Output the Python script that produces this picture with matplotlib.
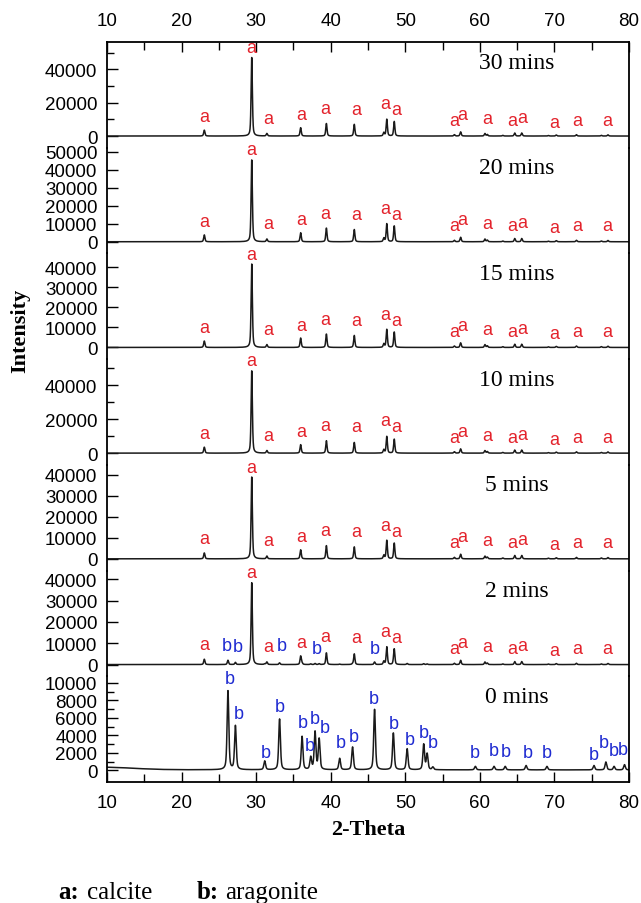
import numpy as np
import matplotlib
matplotlib.use("Agg")
import matplotlib.pyplot as plt
from matplotlib.ticker import MultipleLocator, FormatStrFormatter

# ---------------- data ----------------
panel_names = ["30 mins", "20 mins", "15 mins", "10 mins", "5 mins", "2 mins", "0 mins"]

# calcite reflections (2-theta, deg)
calcite_pos = [23.05, 29.41, 31.44, 35.97, 39.42, 43.16, 47.12, 47.52, 48.52,
               56.58, 57.42, 60.68, 61.00, 63.08, 64.68, 65.62, 69.20, 70.25,
               72.95, 76.30, 77.18]
# aragonite reflections (2-theta, deg)
aragonite_pos = [26.22, 27.22, 31.15, 33.14, 36.16, 37.32, 37.90, 38.45, 41.20,
                 42.93, 45.88, 48.40, 50.25, 52.47, 52.93, 53.70, 59.40, 61.90,
                 63.40, 66.20, 69.00, 75.30, 76.90, 78.00, 79.40]

calcite_30 = [3500, 47000, 1500, 5000, 7500, 7000, 2000, 10000, 8700, 800, 2500,
              1500, 900, 400, 1800, 1800, 300, 600, 800, 400, 700]
calcite_20 = [3800, 45500, 1500, 5000, 7600, 6800, 2000, 10000, 8800, 800, 2500,
              1500, 900, 400, 1800, 1800, 300, 600, 800, 400, 700]
calcite_15 = [3200, 41700, 1400, 4700, 6700, 6000, 1800, 9000, 7700, 700, 2300,
              1400, 800, 400, 1600, 1600, 300, 500, 700, 400, 600]
calcite_10 = [3500, 48400, 1500, 5000, 7300, 6300, 2000, 9800, 8200, 800, 2500,
              1500, 900, 400, 1800, 1800, 300, 600, 800, 400, 700]
calcite_5 = [2800, 39000, 1300, 4300, 6300, 5700, 1700, 8800, 7500, 700, 2200,
             1300, 800, 400, 1600, 1600, 300, 500, 700, 400, 600]
calcite_2 = [2500, 38400, 1200, 4000, 5500, 5000, 1500, 8300, 7200, 600, 2000,
             1200, 700, 300, 1400, 1400, 250, 450, 600, 300, 500]
calcite_0 = [0] * len(calcite_pos)

aragonite_none = [0] * len(aragonite_pos)
aragonite_2 = [2000, 1000, 300, 800, 600, 300, 500, 400, 200, 300, 1200, 500,
               500, 400, 300, 0, 0, 0, 0, 0, 0, 0, 0, 0, 0]
aragonite_0 = [9000, 5000, 1000, 5800, 3800, 1400, 4300, 3500, 1300, 2600, 6900,
               4200, 2400, 2900, 1800, 300, 400, 400, 400, 500, 400, 500, 900,
               400, 600]

calcite_sets = [calcite_30, calcite_20, calcite_15, calcite_10, calcite_5, calcite_2, calcite_0]
aragonite_sets = [aragonite_none, aragonite_none, aragonite_none, aragonite_none,
                  aragonite_none, aragonite_2, aragonite_0]

# background of the 0 mins sample at low angle (2-theta, counts)
bg0_theta = [10, 12, 14, 17, 20, 80]
bg0_counts = [350, 300, 200, 100, 60, 40]

# y ranges and tick steps of each layer
y_limits = [(-7000, 56300), (-6500, 52300), (-5850, 47000), (-6900, 55300),
            (-5600, 44800), (-5500, 44100), (-1340, 10740)]
y_major = [20000, 10000, 10000, 20000, 10000, 10000, 2000]
y_minor = [10000, 10000, 10000, 10000, 10000, 10000, 1000]

# phase markers: x of label, height above baseline (px); None = just above the peak
a_label_x = [23.1, 29.4, 31.6, 36.1, 39.3, 43.4, 47.3, 48.8, 56.5, 57.7, 61.0,
             64.4, 65.7, 70.0, 73.0, 77.1]
a_label_px = [20, None, 18, 22, 28, 27, 33, 27, 16, 22, 18, 16, 19, 14, 16, 16]

b2_label_x = [26.1, 27.6, 33.4, 38.1, 45.9]
b2_label_px = [19, 18, 19, 16, 16]

b0_label_x = [26.5, 27.7, 31.3, 33.2, 36.25, 37.2, 37.8, 39.2, 41.4, 43.1, 45.8,
              48.4, 50.6, 52.5, 53.75, 59.3, 61.9, 63.5, 66.4, 69.0, 75.3, 76.6,
              78.0, 79.2]
b0_label_px = [92, 57, 18, 64, 48, 25, 52, 43, 28, 34, 72, 47, 31, 38, 28, 18,
               20, 19, 18, 18, 16, 28, 20, 21]

# ---------------- profile ----------------
two_theta = np.arange(10.0, 80.0001, 0.01)


def pattern(pos, heights, fwhm):
    y = np.zeros_like(two_theta)
    g = fwhm / 2.0
    for p, h in zip(pos, heights):
        if h <= 0:
            continue
        d = two_theta - p
        lor = 1.0 / (1.0 + (d / g) ** 2)
        gau = np.exp(-np.log(2) * (d / g) ** 2)
        y += h * (0.5 * lor + 0.5 * gau)
    return y


# ---------------- figure ----------------
W, H = 641, 904
fig = plt.figure(figsize=(W / 100, H / 100), dpi=100)

left_px, right_px, top_px, bot_px = 107, 629, 43, 783
n = len(panel_names)
ph = (bot_px - top_px) / n

sans = "Liberation Sans"
serif = "Liberation Serif"
tick_fs = 13.5
mark_fs = 13
red = "#e3232c"
blue = "#1f2bd1"


def marker(ax, text, x, y, off_px, color):
    ax.annotate(text, xy=(x, y), xytext=(0, off_px * 0.72),
                textcoords="offset points", ha="center", va="center",
                color=color, fontsize=mark_fs, family=sans,
                annotation_clip=False)


for i in range(n):
    y_top = top_px + i * ph
    ax = fig.add_axes([left_px / W, 1 - (y_top + ph) / H,
                       (right_px - left_px) / W, ph / H])

    last = i == n - 1
    cal = pattern(calcite_pos, calcite_sets[i], 0.2)
    ara = pattern(aragonite_pos, aragonite_sets[i], 0.27 if last else 0.2)
    y = cal + ara
    if last:
        y = y + np.interp(two_theta, bg0_theta, bg0_counts)
    ax.plot(two_theta, y, color="#1a1a1a", lw=1.1)

    ax.set_xlim(10, 80)
    lo, hi = y_limits[i]
    ax.set_ylim(lo, hi)
    ax.set_yticks(np.arange(0, hi, y_major[i]))
    ax.set_yticks([t for t in np.arange(0, hi, y_minor[i]) if t % y_major[i] != 0],
                  minor=True)
    ax.yaxis.set_major_formatter(FormatStrFormatter("%d"))

    ax.tick_params(axis="y", which="both", direction="in", left=True, right=False,
                   labelsize=tick_fs, pad=7, width=1.0)
    ax.tick_params(axis="y", which="major", length=8)
    ax.tick_params(axis="y", which="minor", length=5)
    for lab in ax.get_yticklabels():
        lab.set_fontfamily(sans)

    for s in ("left", "right", "top", "bottom"):
        ax.spines[s].set_linewidth(1.3)
    ax.spines["top"].set_visible(i == 0)
    ax.spines["bottom"].set_visible(last)
    ax.patch.set_alpha(0)

    ax.xaxis.set_major_locator(MultipleLocator(10))
    ax.xaxis.set_minor_locator(MultipleLocator(5))
    if i == 0:
        ax.tick_params(axis="x", which="both", direction="in", top=True, bottom=False,
                       labeltop=True, labelbottom=False, labelsize=tick_fs, pad=9,
                       width=1.0)
    elif last:
        ax.tick_params(axis="x", which="both", direction="in", top=False, bottom=True,
                       labeltop=False, labelbottom=True, labelsize=tick_fs, pad=9,
                       width=1.0)
    else:
        ax.tick_params(axis="x", which="both", top=False, bottom=False,
                       labeltop=False, labelbottom=False)
    ax.tick_params(axis="x", which="major", length=7)
    ax.tick_params(axis="x", which="minor", length=6)
    for lab in ax.get_xticklabels():
        lab.set_fontfamily(sans)

    ax.text(65, 0.81, panel_names[i], transform=ax.get_xaxis_transform(),
            ha="center", va="center", fontsize=17, family=serif)

    # phase markers
    if not last:
        main_h = calcite_sets[i][1]
        for x, off in zip(a_label_x, a_label_px):
            if off is None:
                marker(ax, "a", x, main_h, 10, red)
            else:
                marker(ax, "a", x, 0, off, red)
    if i == n - 2:
        for x, off in zip(b2_label_x, b2_label_px):
            marker(ax, "b", x, 0, off, blue)
    if last:
        for x, off in zip(b0_label_x, b0_label_px):
            marker(ax, "b", x, 0, off, blue)

fig.text((left_px + right_px) / 2 / W, 1 - 830 / H, "2-Theta", ha="center",
         va="center", fontsize=16, fontweight="bold", family=serif)
fig.text(20 / W, 1 - 331 / H, "Intensity", ha="center", va="center",
         rotation=90, fontsize=16, fontweight="bold", family=serif)

# phase key
ky = 1 - 893 / H
fig.text(58 / W, ky, "a:", ha="left", va="center", fontsize=18,
         fontweight="bold", family=serif)
fig.text(87 / W, ky, "calcite", ha="left", va="center", fontsize=18, family=serif)
fig.text(197 / W, ky, "b:", ha="left", va="center", fontsize=18,
         fontweight="bold", family=serif)
fig.text(225 / W, ky, "aragonite", ha="left", va="center", fontsize=18, family=serif)

fig.savefig("out.png", dpi=100)
